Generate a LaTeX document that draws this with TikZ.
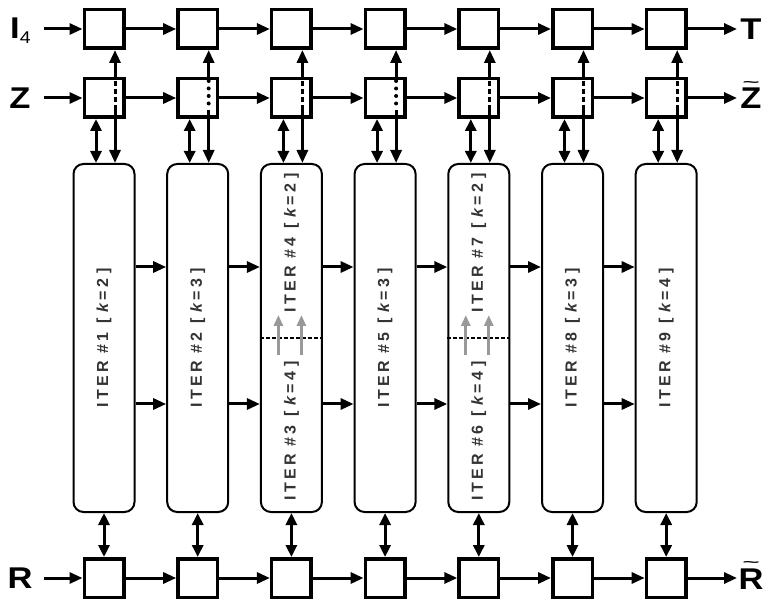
\documentclass[tikz,border=0pt]{standalone}
\usepackage{fontspec}
\setmainfont{Liberation Sans}
\newfontfamily\lblfont[FakeStretch=1.15]{Liberation Sans}
\newfontfamily\iterfont[LetterSpace=20]{Liberation Sans}
\usetikzlibrary{arrows.meta}

\begin{document}
\begin{tikzpicture}[x=1pt,y=-1pt,
  regbox/.style={draw, line width=3.5pt, minimum width=39.5pt, minimum height=38.5pt, inner sep=0pt},
  iterbox/.style={draw, line width=2pt, rounded corners=10pt, minimum width=61pt, minimum height=348pt, inner sep=0pt},
  itertext/.style={rotate=90, inner sep=0pt, text=black!80, font=\iterfont\bfseries\fontsize{16}{16}\selectfont},
  arr/.style={line width=3pt, -{Triangle[length=13pt,width=11pt]}},
  darr/.style={line width=3pt, {Triangle[length=12pt,width=11pt]}-{Triangle[length=12pt,width=11pt]}},
  grayarr/.style={line width=3pt, draw=black!40, -{Triangle[length=11pt,width=9pt]}},
  zdash/.style={line width=3pt, dash pattern=on 5pt off 3pt},
  zdot/.style={line width=4pt, line cap=round, dash pattern=on 0pt off 7.5pt},
  split/.style={line width=2pt, dash pattern=on 4pt off 2pt},
  lbl/.style={inner sep=0pt, font=\lblfont\bfseries\fontsize{30}{30}\selectfont}
]
\useasboundingbox (0,0) rectangle (763,601);
\fill[white] (0,0) rectangle (763,601);

% register boxes and iteration blocks, one column each
\foreach \i in {1,...,7} {
  \pgfmathsetmacro\cx{104+93.7*(\i-1)}
  \node[regbox] (t\i) at (\cx,29) {};
  \node[regbox] (z\i) at (\cx,98) {};
  \node[regbox] (r\i) at (\cx,578) {};
  \node[iterbox] (it\i) at (\cx,338) {};
}

% heights of the links between iteration blocks
\coordinate (ya) at (0,267);
\coordinate (yb) at (0,404);
\coordinate (ym) at (0,338);

% chains along the three rows and between the blocks
\foreach \i/\j in {1/2,2/3,3/4,4/5,5/6,6/7} {
  \draw[arr] (t\i.east) -- (t\j.west);
  \draw[arr] (z\i.east) -- (z\j.west);
  \draw[arr] (r\i.east) -- (r\j.west);
  \draw[arr] (it\i.east |- ya) -- (it\j.west |- ya);
  \draw[arr] (it\i.east |- yb) -- (it\j.west |- yb);
}

% vertical links of every column
\foreach \i/\pat in {1/zdash,2/zdot,3/zdash,4/zdot,5/zdash,6/zdash,7/zdash} {
  \draw[arr] ([xshift=11pt]z\i.north) -- ([xshift=11pt]t\i.south);
  \draw[\pat] ([xshift=11pt,yshift=-4pt]z\i.north) -- ([xshift=11pt,yshift=9pt]z\i.south);
  \draw[arr] ([xshift=11pt,yshift=9pt]z\i.south) -- ([xshift=11pt]it\i.north);
  \draw[darr] ([xshift=-8pt]z\i.south) -- ([xshift=-8pt]it\i.north);
  \draw[darr] (it\i.south) -- (r\i.north);
}

% split blocks: boundary and hand-over arrows
\foreach \i in {3,5} {
  \draw[split] (it\i.west |- ym) -- (it\i.east |- ym);
  \draw[grayarr] ([xshift=-13pt,yshift=-17pt]it\i.center) -- ([xshift=-13pt,yshift=23pt]it\i.center);
  \draw[grayarr] ([xshift=10pt,yshift=-17pt]it\i.center) -- ([xshift=10pt,yshift=23pt]it\i.center);
}

% iteration labels
\foreach \c/\n/\k in {1/1/2,2/2/3,4/5/3,6/8/3,7/9/4}
  \node[itertext] (lab\n) at (it\c.center) {ITER \#\n\hspace{0.6em}[\hspace{0.3em}\textit{k}=\k\hspace{0.3em}]};
\node[itertext] (lab4) at ([yshift=95pt]it3.center) {ITER \#4\hspace{0.6em}[\hspace{0.3em}\textit{k}=2\hspace{0.3em}]};
\node[itertext] (lab3) at ([yshift=-93pt]it3.center) {ITER \#3\hspace{0.6em}[\hspace{0.3em}\textit{k}=4\hspace{0.3em}]};
\node[itertext] (lab7) at ([yshift=95pt]it5.center) {ITER \#7\hspace{0.6em}[\hspace{0.3em}\textit{k}=2\hspace{0.3em}]};
\node[itertext] (lab6) at ([yshift=-93pt]it5.center) {ITER \#6\hspace{0.6em}[\hspace{0.3em}\textit{k}=4\hspace{0.3em}]};

% inputs and outputs
\node[lbl, anchor=west] (inI) at (10,31) {I\raisebox{-5pt}{\mdseries\fontsize{17}{17}\selectfont 4}};
\node[lbl] (inZ) at (20,98) {Z};
\node[lbl] (inR) at (20,578) {R};
\node[lbl] (outT) at (751,29) {T};
\node[lbl, anchor=base] (outZ) at (751,109) {\shortstack[c]{\resizebox{17pt}{5pt}{\textasciitilde}\\[-1pt]Z}};
\node[lbl, anchor=base] (outR) at (751,589) {\shortstack[c]{\resizebox{17pt}{5pt}{\textasciitilde}\\[-1pt]R}};

\coordinate (sI) at (44,29);
\coordinate (sZ) at (44,98);
\coordinate (sR) at (44,578);
\coordinate (eT) at (737,29);
\coordinate (eZ) at (737,98);
\coordinate (eR) at (737,578);
\draw[arr] (sI) -- (t1.west);
\draw[arr] (sZ) -- (z1.west);
\draw[arr] (sR) -- (r1.west);
\draw[arr] (t7.east) -- (eT);
\draw[arr] (z7.east) -- (eZ);
\draw[arr] (r7.east) -- (eR);
\end{tikzpicture}
\end{document}
